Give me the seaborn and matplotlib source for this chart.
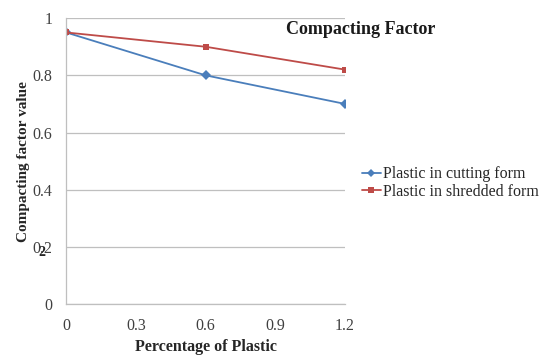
import matplotlib
matplotlib.use("Agg")
import matplotlib.pyplot as plt
import seaborn as sns
import pandas as pd

percent = [0, 0.6, 1.2]
cutting = [0.95, 0.80, 0.70]
shredded = [0.95, 0.90, 0.82]
series_names = ["Plastic in cutting form", "Plastic in shredded form"]
xticks = [0, 0.3, 0.6, 0.9, 1.2]
yticks = [0, 0.2, 0.4, 0.6, 0.8, 1]
ytick_labels = ["0", "0.2", "0.4", "0.6", "0.8", "1"]

df = pd.DataFrame({
    "x": percent * 2,
    "y": cutting + shredded,
    "series": [series_names[0]] * len(percent) + [series_names[1]] * len(percent),
})

sns.set_style("white")
plt.rcParams["font.family"] = ["Liberation Serif", "DejaVu Serif"]

fig = plt.figure(figsize=(5.42, 3.56), dpi=100)
ax = fig.add_axes([0.122, 0.146, 0.5145, 0.803])

palette = {series_names[0]: "#4A7EBB", series_names[1]: "#BE4B48"}
markers = {series_names[0]: "D", series_names[1]: "s"}
sns.lineplot(data=df, x="x", y="y", hue="series", style="series",
             palette=palette, markers=markers, dashes=False,
             markersize=5, linewidth=1.3, markeredgewidth=0, ax=ax)

ax.set_xlim(0, 1.2)
ax.set_ylim(0, 1)
ax.set_xticks(xticks)
ax.set_xticklabels([f"{v:g}" for v in xticks])
ax.set_yticks(yticks)
ax.set_yticklabels(ytick_labels)
ax.yaxis.grid(True, color="#BFBFBF", linewidth=0.9)
ax.set_axisbelow(True)
for s in ["top", "right"]:
    ax.spines[s].set_visible(False)
for s in ["left", "bottom"]:
    ax.spines[s].set_color("#BFBFBF")
    ax.spines[s].set_linewidth(0.9)
ax.tick_params(axis="both", which="both", direction="out", length=4,
               color="#BFBFBF", labelsize=11.5, labelcolor="#404040")
ax.tick_params(axis="x", pad=6)
ax.tick_params(axis="y", pad=6)

ax.set_xlabel("Percentage of Plastic", fontsize=11.5, fontweight="bold",
              color="#262626", labelpad=4)
ax.set_ylabel("Compacting factor value", fontsize=11, fontweight="bold",
              color="#262626", labelpad=2)

fig.text(0.666, 0.918, "Compacting Factor", fontsize=13, fontweight="bold",
         color="#1a1a1a", ha="center", va="center")
fig.text(0.078, 0.29, "2", fontsize=10, fontweight="bold", color="#262626",
         ha="center", va="center")

handles, labels = ax.get_legend_handles_labels()
for h in handles:
    h.set_markersize(4)
ax.legend(handles, labels, loc="center left", bbox_to_anchor=(0.667, 0.486),
          bbox_transform=fig.transFigure, frameon=False, fontsize=11.5,
          handlelength=1.2, handletextpad=0.15, labelspacing=0.1,
          borderaxespad=0, borderpad=0)

fig.savefig("out.png", dpi=100)
